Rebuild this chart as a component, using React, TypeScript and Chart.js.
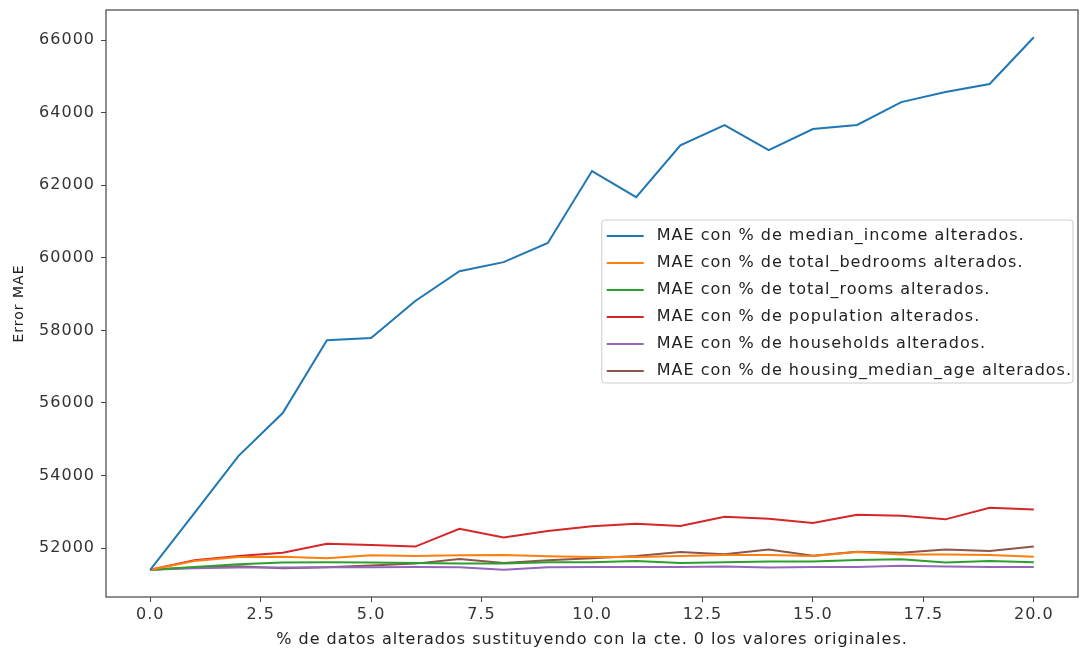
import React, { useEffect, useRef } from "react";
import { Chart, registerables } from "chart.js";

Chart.register(...registerables);

const xValues = [0, 1, 2, 3, 4, 5, 6, 7, 8, 9, 10, 11, 12, 13, 14, 15, 16, 17, 18, 19, 20];
const xTicks = [0, 2.5, 5, 7.5, 10, 12.5, 15, 17.5, 20];
const yTicks = [52000, 54000, 56000, 58000, 60000, 62000, 64000, 66000];

const medianIncome = [51400, 52960, 54540, 55720, 57730, 57790, 58810, 59630, 59880, 60410, 62390, 61670, 63100, 63660, 62970, 63550, 63660, 64290, 64570, 64790, 66080];
const totalBedrooms = [51400, 51640, 51750, 51760, 51720, 51800, 51780, 51800, 51810, 51770, 51750, 51750, 51780, 51810, 51810, 51780, 51890, 51820, 51820, 51810, 51760];
const totalRooms = [51400, 51480, 51550, 51600, 51610, 51600, 51590, 51570, 51570, 51610, 51610, 51640, 51590, 51610, 51630, 51630, 51670, 51690, 51600, 51640, 51610];
const population = [51400, 51660, 51780, 51870, 52120, 52080, 52040, 52530, 52290, 52470, 52600, 52670, 52610, 52860, 52810, 52690, 52920, 52890, 52790, 53110, 53060];
const households = [51400, 51440, 51460, 51460, 51470, 51470, 51480, 51470, 51400, 51470, 51480, 51480, 51480, 51490, 51460, 51480, 51480, 51510, 51490, 51480, 51480];
const housingMedianAge = [51400, 51460, 51500, 51440, 51470, 51520, 51570, 51700, 51590, 51660, 51720, 51780, 51890, 51830, 51960, 51790, 51900, 51870, 51960, 51920, 52040];

const seriesLabels = [
  "MAE con % de median_income alterados.",
  "MAE con % de total_bedrooms alterados.",
  "MAE con % de total_rooms alterados.",
  "MAE con % de population alterados.",
  "MAE con % de households alterados.",
  "MAE con % de housing_median_age alterados.",
];
const seriesValues = [medianIncome, totalBedrooms, totalRooms, population, households, housingMedianAge];
const seriesColors = ["#1f77b4", "#ff7f0e", "#2ca02c", "#d62728", "#9467bd", "#8c564b"];

const xTitle = "% de datos alterados sustituyendo con la cte. 0 los valores originales.";
const yTitle = "Error MAE";

const FONT = "'DejaVu Sans', sans-serif";

const spacingPlugin = {
  id: "spacing",
  beforeLayout(chart: any) {
    (chart.ctx as any).letterSpacing = "1px";
  },
  beforeDraw(chart: any) {
    (chart.ctx as any).letterSpacing = "1px";
  },
};

const framePlugin = {
  id: "frame",
  afterDatasetsDraw(chart: any) {
    const { ctx, chartArea } = chart;
    ctx.save();
    ctx.strokeStyle = "#444";
    ctx.lineWidth = 1.2;
    ctx.strokeRect(chartArea.left, chartArea.top, chartArea.right - chartArea.left, chartArea.bottom - chartArea.top);
    ctx.restore();
  },
};

const legendPlugin = {
  id: "mplLegend",
  afterDraw(chart: any) {
    const { ctx, chartArea } = chart;
    ctx.save();
    (ctx as any).letterSpacing = "1px";
    ctx.font = `16px ${FONT}`;
    const labels = chart.data.datasets.map((d: any) => d.label);
    const maxW = Math.max(...labels.map((l: string) => ctx.measureText(l).width));
    const rowH = 27;
    const padX = 5;
    const lineLen = 37;
    const gap = 13;
    const boxW = padX + lineLen + gap + maxW + 1;
    const boxH = 16 + rowH * (labels.length - 1) + 12;
    const right = chartArea.right - 5;
    const left = right - boxW;
    const top = chartArea.top + 210;
    ctx.fillStyle = "rgba(255,255,255,0.85)";
    ctx.strokeStyle = "#cccccc";
    ctx.lineWidth = 1;
    ctx.beginPath();
    const r = 3;
    ctx.moveTo(left + r, top);
    ctx.lineTo(left + boxW - r, top);
    ctx.quadraticCurveTo(left + boxW, top, left + boxW, top + r);
    ctx.lineTo(left + boxW, top + boxH - r);
    ctx.quadraticCurveTo(left + boxW, top + boxH, left + boxW - r, top + boxH);
    ctx.lineTo(left + r, top + boxH);
    ctx.quadraticCurveTo(left, top + boxH, left, top + boxH - r);
    ctx.lineTo(left, top + r);
    ctx.quadraticCurveTo(left, top, left + r, top);
    ctx.closePath();
    ctx.fill();
    ctx.stroke();
    ctx.textBaseline = "middle";
    ctx.textAlign = "left";
    chart.data.datasets.forEach((d: any, i: number) => {
      const cy = top + 16 + i * rowH;
      ctx.strokeStyle = d.borderColor;
      ctx.lineWidth = 2;
      ctx.beginPath();
      ctx.moveTo(left + padX, cy);
      ctx.lineTo(left + padX + lineLen, cy);
      ctx.stroke();
      ctx.fillStyle = "#222";
      ctx.fillText(d.label, left + padX + lineLen + gap, cy);
    });
    ctx.restore();
  },
};

export default function App() {
  const canvasRef = useRef<HTMLCanvasElement | null>(null);

  useEffect(() => {
    document.body.style.margin = "0";
    const canvas = canvasRef.current;
    if (!canvas) return;
    const chart = new Chart(canvas, {
      type: "line",
      data: {
        labels: xValues,
        datasets: seriesValues.map((vals, i) => ({
          label: seriesLabels[i],
          data: vals.map((v, j) => ({ x: xValues[j], y: v })),
          borderColor: seriesColors[i],
          backgroundColor: seriesColors[i],
          borderWidth: 2,
          pointRadius: 0,
          tension: 0,
          fill: false,
        })),
      },
      options: {
        animation: false,
        responsive: false,
        maintainAspectRatio: false,
        layout: { padding: { left: 7, top: 10, right: 3, bottom: 0 } },
        plugins: { legend: { display: false }, tooltip: { enabled: false } },
        scales: {
          x: {
            type: "linear",
            min: -1,
            max: 21,
            afterBuildTicks: (scale: any) => {
              scale.ticks = xTicks.map((v) => ({ value: v }));
            },
            afterFit: (scale: any) => {
              scale.height = 56;
              scale.paddingLeft = 0;
              scale.paddingRight = 0;
            },
            border: { display: false },
            grid: { display: true, drawOnChartArea: false, drawTicks: true, tickLength: 5, color: "#444" },
            ticks: {
              color: "#333",
              font: { family: FONT, size: 16 },
              padding: 3,
              maxRotation: 0,
              autoSkip: false,
              callback: (v: any) => Number(v).toFixed(1),
            },
            title: {
              display: true,
              text: xTitle,
              color: "#222",
              font: { family: FONT, size: 16 },
              padding: { top: 1, bottom: 4 },
            },
          },
          y: {
            type: "linear",
            min: 50650,
            max: 66830,
            afterBuildTicks: (scale: any) => {
              scale.ticks = yTicks.map((v) => ({ value: v }));
            },
            afterFit: (scale: any) => {
              scale.width = 99;
              scale.paddingTop = 0;
              scale.paddingBottom = 0;
            },
            border: { display: false },
            grid: { display: true, drawOnChartArea: false, drawTicks: true, tickLength: 5, color: "#444" },
            ticks: {
              color: "#333",
              font: { family: FONT, size: 16 },
              padding: 6,
              autoSkip: false,
              callback: (v: any) => String(v),
            },
            title: {
              display: true,
              text: yTitle,
              color: "#222",
              font: { family: FONT, size: 14 },
              padding: 4,
            },
          },
        },
      },
      plugins: [spacingPlugin, framePlugin, legendPlugin],
    });
    return () => chart.destroy();
  }, []);

  return (
    <div style={{ width: 1081, height: 653, position: "relative", background: "#fff" }}>
      <canvas ref={canvasRef} width={1081} height={653} style={{ display: "block" }} />
    </div>
  );
}
